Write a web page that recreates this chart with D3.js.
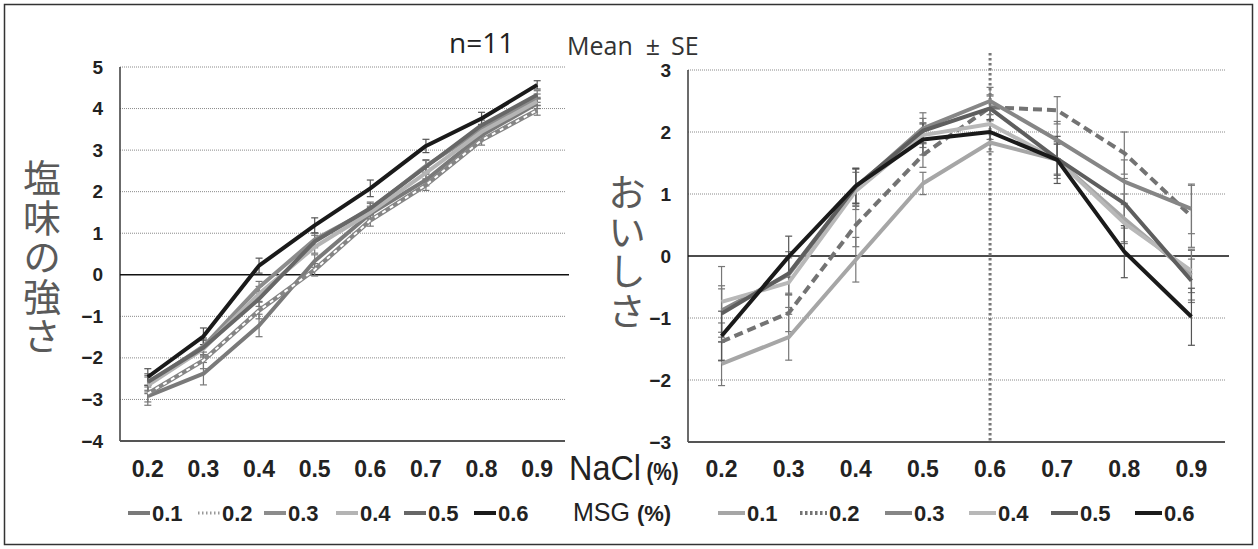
<!DOCTYPE html>
<html>
<head>
<meta charset="utf-8">
<title>塩味の強さ / おいしさ</title>
<script src="https://d3js.org/d3.v7.min.js"></script>
<style>
    body { margin: 0; background: #fff; }
    .narrow { font-family: "Liberation Sans Narrow", "Arial Narrow", "Liberation Sans", sans-serif; }
    .jp { font-family: "Noto Sans CJK JP", sans-serif; writing-mode: vertical-rl; }
    .sans { font-family: "Open Sans", "Noto Sans", sans-serif; }
</style>
</head>
<body>
<svg id="chart" width="1258" height="549"></svg>
<script>
// categories
const naclLevels = ["0.2", "0.3", "0.4", "0.5", "0.6", "0.7", "0.8", "0.9"];
const msgLevels = ["0.1", "0.2", "0.3", "0.4", "0.5", "0.6"];
const saltTicks = [5, 4, 3, 2, 1, 0, -1, -2, -3, -4];
const tasteTicks = [3, 2, 1, 0, -1, -2, -3];

// 塩味の強さ (mean), one array per MSG level
const salt01 = [-2.92, -2.38, -1.22, 0.33, 1.47, 2.28, 3.36, 4.12];
const salt02 = [-2.86, -2.06, -0.86, 0.12, 1.31, 2.16, 3.24, 3.96];
const salt03 = [-2.62, -1.72, -0.3, 0.85, 1.57, 2.62, 3.5, 4.25];
const salt04 = [-2.66, -1.78, -0.46, 0.67, 1.5, 2.45, 3.44, 4.17];
const salt05 = [-2.58, -1.75, -0.58, 0.8, 1.6, 2.6, 3.6, 4.33];
const salt06 = [-2.46, -1.48, 0.22, 1.19, 2.08, 3.1, 3.76, 4.57];
// 塩味の強さ (SE)
const saltSe01 = [0.22, 0.27, 0.27, 0.15, 0.15, 0.14, 0.12, 0.12];
const saltSe02 = [0.2, 0.2, 0.2, 0.15, 0.14, 0.13, 0.12, 0.12];
const saltSe03 = [0.2, 0.2, 0.14, 0.15, 0.15, 0.15, 0.12, 0.1];
const saltSe04 = [0.2, 0.2, 0.18, 0.15, 0.15, 0.14, 0.12, 0.1];
const saltSe05 = [0.2, 0.2, 0.18, 0.15, 0.15, 0.15, 0.12, 0.1];
const saltSe06 = [0.2, 0.2, 0.18, 0.18, 0.2, 0.16, 0.15, 0.1];

// おいしさ (mean)
const taste01 = [-1.74, -1.31, -0.06, 1.17, 1.83, 1.55, 0.6, -0.31];
const taste02 = [-1.38, -0.92, 0.5, 1.63, 2.4, 2.35, 1.66, 0.64];
const taste03 = [-0.88, -0.3, 1.1, 2.06, 2.5, 1.87, 1.2, 0.76];
const taste04 = [-0.74, -0.43, 1.05, 1.95, 2.13, 1.55, 0.53, -0.24];
const taste05 = [-0.93, -0.28, 1.12, 2.02, 2.38, 1.57, 0.85, -0.4];
const taste06 = [-1.29, -0.01, 1.13, 1.88, 2.0, 1.55, 0.07, -0.98];
// おいしさ (SE)
const tasteSe01 = [0.35, 0.37, 0.36, 0.18, 0.15, 0.3, 0.4, 0.4];
const tasteSe02 = [0.3, 0.3, 0.35, 0.2, 0.2, 0.22, 0.34, 0.5];
const tasteSe03 = [0.35, 0.3, 0.3, 0.25, 0.22, 0.3, 0.35, 0.4];
const tasteSe04 = [0.57, 0.4, 0.3, 0.2, 0.25, 0.25, 0.3, 0.35];
const tasteSe05 = [0.45, 0.35, 0.3, 0.2, 0.2, 0.25, 0.4, 0.35];
const tasteSe06 = [0.4, 0.33, 0.28, 0.25, 0.2, 0.38, 0.42, 0.46];

const saltMeans = [salt01, salt02, salt03, salt04, salt05, salt06];
const saltSes = [saltSe01, saltSe02, saltSe03, saltSe04, saltSe05, saltSe06];
const tasteMeans = [taste01, taste02, taste03, taste04, taste05, taste06];
const tasteSes = [tasteSe01, tasteSe02, tasteSe03, tasteSe04, tasteSe05, tasteSe06];

const svg = d3.select("#chart");

// outer frame
svg.append("rect")
    .attr("x", 4.5).attr("y", 4.5)
    .attr("width", 1248).attr("height", 540)
    .attr("fill", "none").attr("stroke", "#333").attr("stroke-width", 1.5);

// line styles per MSG level, one set for each panel
const leftStyles = [
    { color: "#7a7a7a" },
    { color: "#858585", overlay: true },
    { color: "#8c8c8c" },
    { color: "#b4b4b4" },
    { color: "#676767" },
    { color: "#1a1a1a" }
];
const rightStyles = [
    { color: "#a6a6a6" },
    { color: "#737373", dash: "9,5" },
    { color: "#868686" },
    { color: "#b8b8b8" },
    { color: "#5e5e5e" },
    { color: "#1a1a1a" }
];

function drawPanel(p) {
    const x = d3.scaleBand().domain(naclLevels).range([p.x0, p.x1]);
    const y = d3.scaleLinear().domain(p.domain).range([p.yBot, p.yTop]);
    const g = svg.append("g");

    // dotted grid
    g.selectAll(".grid")
        .data(p.ticks.filter(t => t !== 0 && t !== p.domain[0]))
        .enter().append("line")
        .attr("x1", p.x0).attr("x2", p.x1)
        .attr("y1", d => y(d)).attr("y2", d => y(d))
        .attr("stroke", "#8a8a8a").attr("stroke-width", 1)
        .attr("stroke-dasharray", "1,1");

    // axis lines
    g.append("line")
        .attr("x1", p.x0).attr("x2", p.x0)
        .attr("y1", y(p.domain[1])).attr("y2", y(p.domain[0]))
        .attr("stroke", "#3a3a3a").attr("stroke-width", 1.5);
    g.append("line")
        .attr("x1", p.x0).attr("x2", p.x1)
        .attr("y1", y(p.domain[0])).attr("y2", y(p.domain[0]))
        .attr("stroke", "#555").attr("stroke-width", 2);
    g.append("line")
        .attr("x1", p.x0).attr("x2", p.x1 + 4)
        .attr("y1", y(0)).attr("y2", y(0))
        .attr("stroke", "#111").attr("stroke-width", 1.6);

    // y tick labels
    g.selectAll(".ytick")
        .data(p.ticks)
        .enter().append("text")
        .attr("class", "narrow")
        .attr("x", p.x0 - 17)
        .attr("y", d => y(d) + 6.5)
        .attr("text-anchor", "end")
        .attr("font-size", "19px")
        .attr("font-weight", "bold")
        .attr("fill", "#222")
        .text(d => d < 0 ? "\u2212" + Math.abs(d) : d);

    // x tick labels
    g.selectAll(".xtick")
        .data(naclLevels)
        .enter().append("text")
        .attr("class", "narrow")
        .attr("x", d => x(d) + x.bandwidth() / 2)
        .attr("y", 477)
        .attr("text-anchor", "middle")
        .attr("font-size", "23px")
        .attr("font-weight", "bold")
        .attr("fill", "#222")
        .text(d => d);

    if (p.marker) {
        const mx = x(p.marker) + x.bandwidth() / 2;
        g.append("line")
            .attr("x1", mx).attr("x2", mx)
            .attr("y1", 53).attr("y2", y(p.domain[0]))
            .attr("stroke", "#777").attr("stroke-width", 3)
            .attr("stroke-dasharray", "2.5,2.5");
    }

    const cx = d => x(d) + x.bandwidth() / 2;

    // error bars
    p.means.forEach((m, i) => {
        const se = p.ses[i];
        const eb = g.append("g")
            .attr("stroke", p.styles[i].color === "#1a1a1a" ? "#555" : "#777")
            .attr("stroke-width", 1.2);
        naclLevels.forEach((c, j) => {
            const lo = y(m[j] - se[j]), hi = y(m[j] + se[j]);
            eb.append("line").attr("x1", cx(c)).attr("x2", cx(c)).attr("y1", lo).attr("y2", hi);
            eb.append("line").attr("x1", cx(c) - 3.5).attr("x2", cx(c) + 3.5).attr("y1", lo).attr("y2", lo);
            eb.append("line").attr("x1", cx(c) - 3.5).attr("x2", cx(c) + 3.5).attr("y1", hi).attr("y2", hi);
        });
    });

    // mean lines
    const line = d3.line()
        .x((d, j) => cx(naclLevels[j]))
        .y(d => y(d));
    p.means.forEach((m, i) => {
        const s = p.styles[i];
        g.append("path")
            .attr("d", line(m))
            .attr("fill", "none")
            .attr("stroke", s.color)
            .attr("stroke-width", s.overlay ? 4.5 : 4)
            .attr("stroke-linejoin", "round")
            .attr("stroke-dasharray", s.dash || null);
        if (s.overlay) {
            g.append("path")
                .attr("d", line(m))
                .attr("fill", "none")
                .attr("stroke", "#fff")
                .attr("stroke-width", 2)
                .attr("stroke-dasharray", "4,5");
        }
    });

    // legend
    p.legendX.forEach((lx, i) => {
        const s = p.styles[i];
        const lg = g.append("g");
        if (s.overlay) {
            lg.append("line")
                .attr("x1", lx).attr("x2", lx + p.legendLen)
                .attr("y1", 513).attr("y2", 513)
                .attr("stroke", "#999").attr("stroke-width", 3)
                .attr("stroke-dasharray", "1.5,2.5");
        } else {
            lg.append("line")
                .attr("x1", lx).attr("x2", lx + p.legendLen)
                .attr("y1", 513).attr("y2", 513)
                .attr("stroke", s.color).attr("stroke-width", 4)
                .attr("stroke-dasharray", s.dash ? "2.5,2.5" : null);
        }
        lg.append("text")
            .attr("class", "narrow")
            .attr("x", lx + p.legendLen + 2)
            .attr("y", 521)
            .attr("font-size", "22px")
            .attr("font-weight", "bold")
            .attr("fill", "#222")
            .text(msgLevels[i]);
    });
}

drawPanel({
    x0: 120, x1: 565, yTop: 67, yBot: 441,
    domain: [-4, 5], ticks: saltTicks,
    means: saltMeans, ses: saltSes, styles: leftStyles,
    legendX: [128, 198, 264, 336, 404, 474], legendLen: 22
});

drawPanel({
    x0: 688, x1: 1225, yTop: 70, yBot: 442,
    domain: [-3, 3], ticks: tasteTicks,
    means: tasteMeans, ses: tasteSes, styles: rightStyles,
    legendX: [718, 800, 885, 969, 1051, 1135], legendLen: 27,
    marker: "0.6"
});

// vertical axis titles (one text each, written top to bottom)
svg.append("text")
    .attr("class", "jp")
    .attr("x", 42).attr("y", 159)
    .attr("font-size", "38px")
    .attr("font-weight", "400")
    .attr("letter-spacing", "1.5px")
    .attr("fill", "#5a5a5a")
    .text("塩味の強さ");

svg.append("text")
    .attr("class", "jp")
    .attr("x", 627).attr("y", 173)
    .attr("font-size", "38px")
    .attr("font-weight", "400")
    .attr("letter-spacing", "1.5px")
    .attr("fill", "#5a5a5a")
    .text("おいしさ");

// header texts
svg.append("text")
    .attr("class", "sans")
    .attr("x", 449).attr("y", 53)
    .attr("font-size", "28px")
    .attr("fill", "#222")
    .text("n=11");
const meanSe = svg.append("text")
    .attr("class", "sans")
    .attr("x", 567).attr("y", 55)
    .attr("font-size", "25px")
    .attr("fill", "#333");
meanSe.append("tspan").text("Mean");
meanSe.append("tspan").attr("dx", 13).text("±");
meanSe.append("tspan").attr("dx", 11).text("SE");

// x axis name / legend name
const naclLabel = svg.append("text")
    .attr("class", "narrow")
    .attr("transform", "translate(569,480) scale(0.9,1)")
    .attr("fill", "#222");
naclLabel.append("tspan").attr("font-size", "36px").text("NaCl");
naclLabel.append("tspan").attr("font-size", "23px").attr("font-weight", "bold").attr("dx", 6).text("(%)");

const msgLabel = svg.append("text")
    .attr("class", "narrow")
    .attr("x", 573).attr("y", 521)
    .attr("fill", "#222");
msgLabel.append("tspan").attr("font-size", "25px").text("MSG");
msgLabel.append("tspan").attr("font-size", "22px").attr("font-weight", "bold").attr("dx", 7).text("(%)");
</script>
</body>
</html>
